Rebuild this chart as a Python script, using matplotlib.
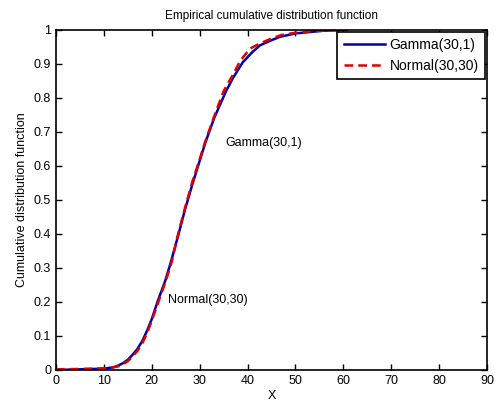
import matplotlib
matplotlib.use("Agg")
import matplotlib.pyplot as plt

plt.rcParams['font.family'] = ['Liberation Sans', 'DejaVu Sans']

# Empirical CDF
gamma_x = [0, 5, 10, 12, 13, 14, 15, 16, 17, 18, 19, 20, 21.3, 22.8, 24, 25.5, 27, 28.6,
           30, 31.1, 33, 35.5, 37, 39, 41, 42.6, 45, 46.8, 50, 53, 56, 60]
gamma_y = [0, 0.002, 0.004, 0.008, 0.013, 0.02, 0.03, 0.045, 0.062, 0.085, 0.115, 0.15,
           0.205, 0.262, 0.318, 0.395, 0.475, 0.552, 0.615, 0.665, 0.74, 0.82, 0.86,
           0.905, 0.935, 0.955, 0.97, 0.98, 0.99, 0.994, 0.998, 1.0]

normal_x = [0, 5, 10, 12, 13, 14, 15, 16, 17, 18, 19, 20, 21.5, 23, 24.2, 25.5, 27, 28.5,
            30, 31, 33, 35, 37, 38.5, 40.5, 42.5, 45, 47, 50, 53, 57, 61]
normal_y = [0.002, 0.003, 0.005, 0.008, 0.011, 0.017, 0.026, 0.04, 0.056, 0.078, 0.108,
            0.145, 0.205, 0.265, 0.32, 0.40, 0.48, 0.555, 0.62, 0.665, 0.745, 0.82,
            0.87, 0.91, 0.945, 0.96, 0.975, 0.985, 0.992, 0.996, 0.999, 1.0]

labels = ['Gamma(30,1)', 'Normal(30,30)']
xticks = list(range(0, 91, 10))
yticks = [0, 0.1, 0.2, 0.3, 0.4, 0.5, 0.6, 0.7, 0.8, 0.9, 1]

fig = plt.figure(figsize=(4.97, 4.03), dpi=100)
ax = fig.add_axes([56/497, 33/403, (487-56)/497, (370-30)/403])

ax.plot(gamma_x, gamma_y, color='#0000b0', lw=1.8, label=labels[0])
ax.plot(normal_x, normal_y, color='#e00000', lw=1.8, ls=(0, (3.5, 2)), label=labels[1])

ax.set_xlim(0, 90)
ax.set_ylim(0, 1)
ax.set_xticks(xticks)
ax.set_xticklabels([str(t) for t in xticks])
ax.set_yticks(yticks)
ax.set_yticklabels(['0', '0.1', '0.2', '0.3', '0.4', '0.5', '0.6', '0.7', '0.8', '0.9', '1'])
ax.tick_params(direction='in', top=True, right=True, labelsize=9, length=4, width=1)
for s in ax.spines.values():
    s.set_linewidth(1.2)

ax.text(35.3, 0.668, labels[0], fontsize=9, va='center', ha='left')
ax.text(23.4, 0.206, labels[1], fontsize=9, va='center', ha='left')

ax.set_title('Empirical cumulative distribution function', fontsize=8.5, pad=8)
ax.set_xlabel('X', fontsize=9, labelpad=2)
ax.set_ylabel('Cumulative distribution function', fontsize=9, labelpad=4)

leg = ax.legend(loc='upper right', fontsize=10, frameon=True, fancybox=False,
                edgecolor='black', framealpha=1, borderaxespad=0.15,
                handlelength=3.0, handletextpad=0.3, borderpad=0.45, labelspacing=0.45)
leg.get_frame().set_linewidth(1.2)

fig.savefig('out.png', dpi=100)
